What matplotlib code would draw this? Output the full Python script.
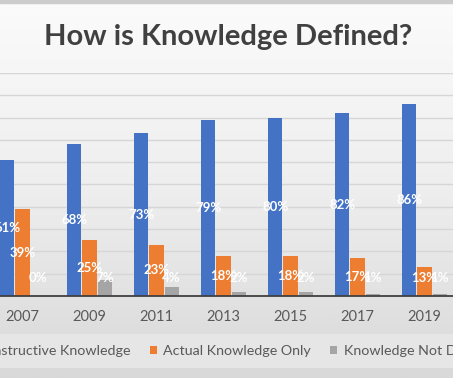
import matplotlib
matplotlib.use('Agg')
import matplotlib.pyplot as plt
import numpy as np
from matplotlib.patches import Patch
from matplotlib.colors import LinearSegmentedColormap

years = ['2007', '2009', '2011', '2013', '2015', '2017', '2019']
constructive = [61, 68, 73, 79, 80, 82, 86]
actual_only = [39, 25, 23, 18, 18, 17, 13]
not_defined = [0, 7, 4, 2, 2, 1, 1]
series_names = ['Constructive Knowledge', 'Actual Knowledge Only', 'Knowledge Not Defined']
series_values = [constructive, actual_only, not_defined]
colors = ['#4472C4', '#ED7D31', '#A5A5A5']

plt.rcParams['font.family'] = ['Lato', 'DejaVu Sans']

W, H = 453, 378
fig = plt.figure(figsize=(W / 100, H / 100), dpi=100)

# gradient background
bg = fig.add_axes([0, 0, 1, 1], zorder=-10)
grad = np.linspace(0, 1, 256)[:, None]
cmap = LinearSegmentedColormap.from_list('bg', ['#fbfbfb', '#eeeeee', '#d9d9d9'])
bg.imshow(grad, aspect='auto', cmap=cmap, extent=[0, 1, 0, 1])
bg.axhspan(0.992, 1.0, color='#cccccc')
bg.set_xlim(0, 1)
bg.set_ylim(0, 1)
bg.axis('off')

ax = fig.add_axes([-11 / W, (H - 296) / H, 469 / W, 223 / H])
ax.patch.set_alpha(0)
x = np.arange(len(years))
width = 0.21
offsets = [-0.225, 0.0, 0.225]
for vals, off, col in zip(series_values, offsets, colors):
    ax.bar(x + off, vals, width=width, color=col, zorder=3)
    for xi, v in zip(x, vals):
        ax.text(xi + off, max(v / 2, 8), f'{v}%', ha='center', va='center',
                color='white', fontsize=9.5, fontweight='bold', zorder=5)

ax.set_xlim(-0.5, 6.5)
ax.set_ylim(0, 100)
ax.set_yticks(np.arange(0, 101, 10))
ax.set_yticklabels([])
ax.tick_params(axis='y', length=0)
ax.yaxis.grid(True, color='#d6d6d6', lw=1, zorder=0)
ax.set_xticks(x, years)
ax.tick_params(axis='x', length=0, pad=10, labelsize=10.5, colors='#595959')
for s in ['top', 'left', 'right']:
    ax.spines[s].set_visible(False)
ax.spines['bottom'].set_color('#404040')
ax.spines['bottom'].set_linewidth(1.3)
ax.spines['bottom'].set_zorder(6)

handles = [Patch(facecolor=c, edgecolor='none') for c in colors]
leg = ax.legend(handles, series_names, ncol=3, loc='center',
                bbox_to_anchor=(229 / W, 1 - 351 / H), bbox_transform=fig.transFigure,
                frameon=True, facecolor='#e6e6e6', edgecolor='none', framealpha=1,
                fontsize=10.3, labelcolor='#595959', handlelength=0.5, handleheight=0.5,
                handletextpad=0.45, columnspacing=1.35, borderpad=0.75)
leg.get_frame().set_boxstyle('square', pad=0)

fig.text(228 / W, 1 - 45 / H, 'How is Knowledge Defined?', ha='center', va='baseline',
         fontsize=21, fontweight='bold', color='#404040')

fig.savefig('out.png', dpi=100)
